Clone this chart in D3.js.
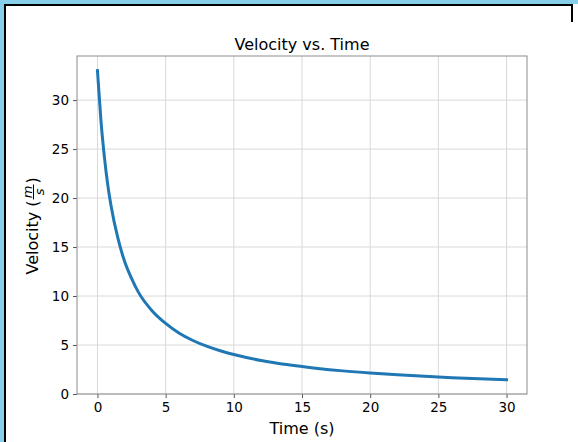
<!DOCTYPE html>
<html>
<head>
<meta charset="utf-8">
<script src="https://cdn.jsdelivr.net/npm/d3@7"></script>
<style>
    html, body { margin: 0; padding: 0; background: #87ceeb; }
    #graph { width: 578px; height: 442px; overflow: hidden; }
    text { font-family: "DejaVu Sans", sans-serif; fill: #000; }
</style>
</head>
<body>
<div id="graph"></div>
<script>
// time (s) and velocity (m/s)
const times = [0, 0.25, 0.5, 0.75, 1, 1.5, 2, 2.5, 3, 4, 5, 6, 7, 8, 9, 10, 12, 14, 16, 18, 20, 22, 24, 26, 28, 30];
const velocities = [33.0, 28.0, 24.3, 21.4, 19.2, 15.9, 13.5, 11.8, 10.4, 8.5, 7.2, 6.2, 5.46, 4.88, 4.41, 4.03, 3.42, 2.98, 2.64, 2.36, 2.14, 1.96, 1.8, 1.67, 1.56, 1.46];
const xTicks = [0, 5, 10, 15, 20, 25, 30];
const yTicks = [0, 5, 10, 15, 20, 25, 30];

const width = 578;
const height = 442;
const margin = { top: 56, right: 51, bottom: 48, left: 77 };

const svg = d3.select('#graph')
    .append('svg')
    .attr('width', width)
    .attr('height', height);

// white figure panel with the black frame on top/left
svg.append('rect')
    .attr('x', 4).attr('y', 4)
    .attr('width', width - 4).attr('height', height - 4)
    .attr('fill', '#fff');
svg.append('path')
    .attr('d', `M5,${height} V5 H572 V22`)
    .attr('fill', 'none')
    .attr('stroke', '#000')
    .attr('stroke-width', 2);

const xScale = d3.scaleLinear()
    .domain([-1.5, 31.5])
    .range([margin.left, width - margin.right]);

const yScale = d3.scaleLinear()
    .domain([0, 34.5])
    .range([height - margin.bottom, margin.top]);

// grid
svg.append('g')
    .selectAll('line')
    .data(xTicks)
    .join('line')
    .attr('x1', d => xScale(d)).attr('x2', d => xScale(d))
    .attr('y1', margin.top).attr('y2', height - margin.bottom)
    .attr('stroke', '#d9d9d9').attr('stroke-width', 1);
svg.append('g')
    .selectAll('line')
    .data(yTicks)
    .join('line')
    .attr('x1', margin.left).attr('x2', width - margin.right)
    .attr('y1', d => yScale(d)).attr('y2', d => yScale(d))
    .attr('stroke', '#d9d9d9').attr('stroke-width', 1);

// axes
const xAxis = svg.append('g')
    .attr('transform', `translate(0, ${height - margin.bottom})`)
    .call(d3.axisBottom(xScale).tickValues(xTicks).tickSize(4).tickPadding(4));
const yAxis = svg.append('g')
    .attr('transform', `translate(${margin.left}, 0)`)
    .call(d3.axisLeft(yScale).tickValues(yTicks).tickSize(4).tickPadding(4));

[xAxis, yAxis].forEach(ax => {
    ax.select('.domain').remove();
    ax.selectAll('line').attr('stroke', '#555');
    ax.selectAll('text')
        .style('font-family', '"DejaVu Sans", sans-serif')
        .style('font-size', '13.5px')
        .attr('fill', '#000');
});

// frame around plot area
svg.append('rect')
    .attr('x', margin.left).attr('y', margin.top)
    .attr('width', width - margin.left - margin.right)
    .attr('height', height - margin.top - margin.bottom)
    .attr('fill', 'none')
    .attr('stroke', '#8c8c8c')
    .attr('stroke-width', 1);

// line
const line = d3.line()
    .x((d, i) => xScale(times[i]))
    .y(d => yScale(d))
    .curve(d3.curveMonotoneX);

svg.append('path')
    .datum(velocities)
    .attr('d', line)
    .attr('fill', 'none')
    .attr('stroke', '#1f77b4')
    .attr('stroke-width', 3)
    .attr('stroke-linecap', 'square');

// title and labels
const cx = (margin.left + width - margin.right) / 2;
svg.append('text')
    .attr('x', cx).attr('y', 50)
    .attr('text-anchor', 'middle')
    .style('font-size', '16px')
    .text('Velocity vs. Time');

svg.append('text')
    .attr('x', cx).attr('y', 434)
    .attr('text-anchor', 'middle')
    .style('font-size', '16px')
    .text('Time (s)');

// y label with a m/s fraction
const yl = svg.append('g')
    .attr('transform', 'translate(38, 226) rotate(-90)');
const lab = yl.append('text')
    .attr('y', 0)
    .style('font-size', '16px')
    .text('Velocity (');
const labW = lab.node().getComputedTextLength();
const fw = 15;
const parW = 6;
const x0 = -(labW + fw + parW + 2) / 2;
lab.attr('x', x0);
const fx = x0 + labW + 1;
yl.append('text')
    .attr('x', fx + fw / 2).attr('y', -6.5)
    .attr('text-anchor', 'middle')
    .style('font-size', '13px')
    .style('font-style', 'italic')
    .text('m');
yl.append('line')
    .attr('x1', fx).attr('x2', fx + fw)
    .attr('y1', -4.5).attr('y2', -4.5)
    .attr('stroke', '#000').attr('stroke-width', 1);
yl.append('text')
    .attr('x', fx + fw / 2).attr('y', 6)
    .attr('text-anchor', 'middle')
    .style('font-size', '13px')
    .style('font-style', 'italic')
    .text('s');
yl.append('text')
    .attr('x', fx + fw + 1).attr('y', 0)
    .style('font-size', '16px')
    .text(')');
</script>
</body>
</html>
